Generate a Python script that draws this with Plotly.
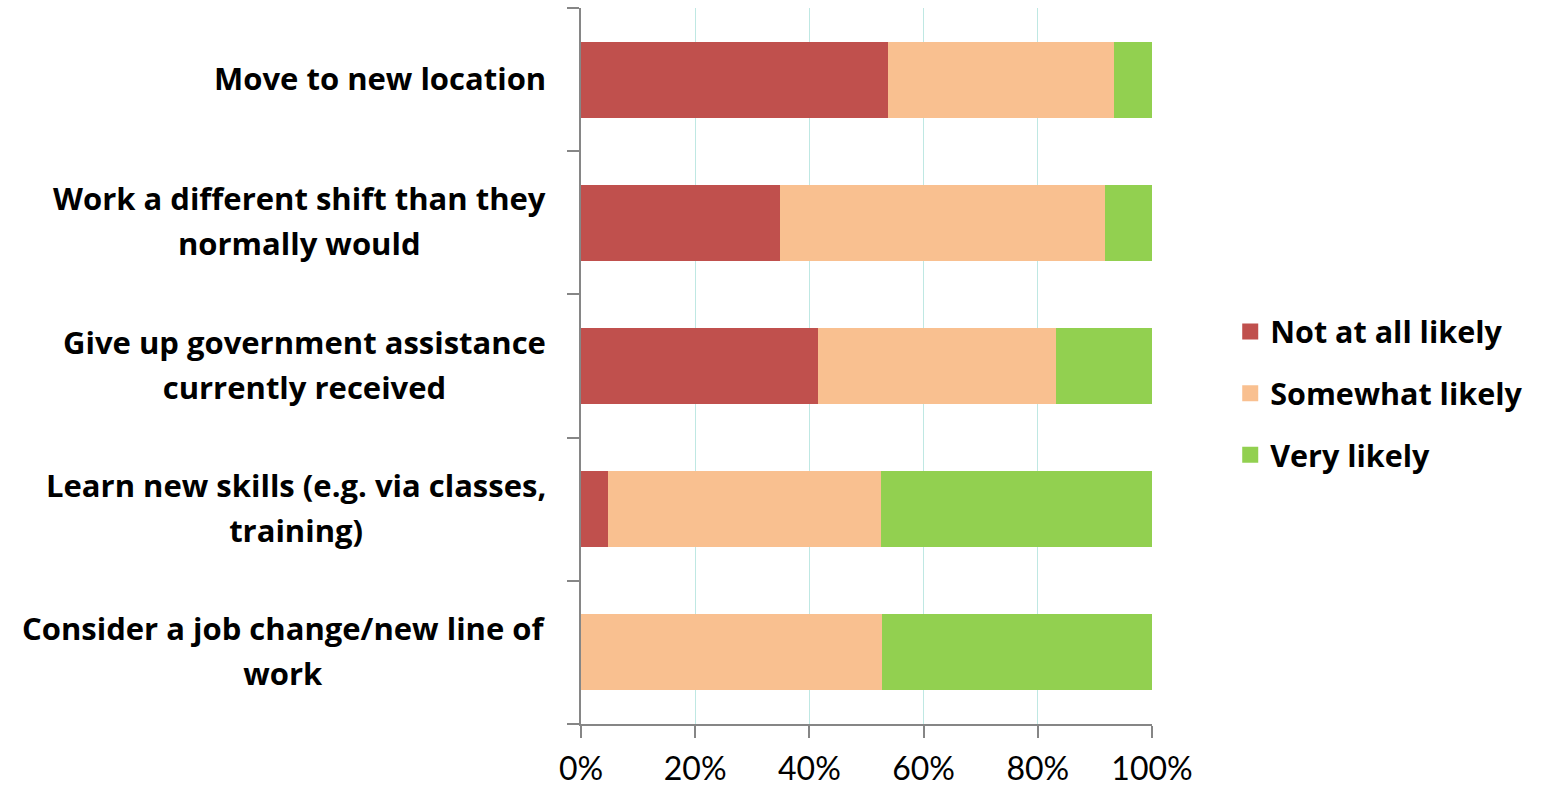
import plotly.graph_objects as go

categories = [
    "Move to new location",
    "Work a different shift than they<br>normally would",
    "Give up government assistance<br>currently received",
    "Learn new skills (e.g. via classes,<br>training)",
    "Consider a job change/new line of<br>work",
]
not_at_all = [53.8, 34.9, 41.5, 4.7, 0.0]
somewhat = [39.6, 56.8, 41.7, 47.8, 52.8]
very = [6.6, 8.3, 16.8, 47.5, 47.2]
series_names = ["Not at all likely", "Somewhat likely", "Very likely"]
colors = ["#C0504D", "#F9C090", "#92D050"]
x_ticks = [0, 20, 40, 60, 80, 100]
x_tick_labels = ["0%", "20%", "40%", "60%", "80%", "100%"]

FONT = "Open Sans"
fig = go.Figure()
for name, vals, col in zip(series_names, [not_at_all, somewhat, very], colors):
    fig.add_trace(go.Bar(
        y=categories, x=vals, orientation="h", name=name,
        marker=dict(color=col, line=dict(width=0)),
        showlegend=False,
    ))
for i, (name, col) in enumerate(zip(series_names, colors)):
    fig.add_trace(go.Scatter(
        x=[None], y=[None], mode="markers", name=name,
        marker=dict(color=col, symbol="square", size=16),
        legendgroup=str(i),
    ))

for cat in categories:
    lines = cat.split("<br>")
    txt = "<br>".join(f"<span style='font-size:31px'>{l}</span>" for l in lines)
    fig.add_annotation(
        x=0, xref="paper", y=cat, yref="y", xanchor="right", yanchor="middle",
        xshift=-33, yshift=2, text=txt, showarrow=False, align="center",
        font=dict(family=FONT, size=34.6, color="#000000", weight="bold"),
    )

fig.update_layout(
    barmode="stack",
    bargap=0.47,
    width=1556, height=788,
    margin=dict(l=581, r=404, t=8, b=64),
    plot_bgcolor="white", paper_bgcolor="white",
    legend=dict(
        x=1.137, xanchor="left", y=0.462, yanchor="middle",
        font=dict(family=FONT, size=30.5, color="#000000", weight="bold"),
        tracegroupgap=19, itemsizing="trace",
    ),
    font=dict(family=FONT, color="#000000"),
)
fig.update_xaxes(
    range=[0, 100], tickvals=x_ticks, ticktext=x_tick_labels,
    showgrid=True, gridcolor="#BFE8E3", gridwidth=1,
    showline=True, linecolor="#868686", linewidth=2,
    ticks="outside", ticklen=12, tickcolor="#868686", tickwidth=2,
    tickfont=dict(family="Lato", size=32, color="#000000"),
    ticklabelstandoff=4, automargin=False,
    zeroline=False, fixedrange=True,
)
fig.update_yaxes(
    categoryorder="array", categoryarray=categories[::-1],
    showticklabels=False, tickson="boundaries",
    ticks="outside", ticklen=12, tickcolor="#868686", tickwidth=2,
    showline=True, linecolor="#868686", linewidth=2,
    showgrid=False, zeroline=False, automargin=False,
)
fig.write_html("out.html")
